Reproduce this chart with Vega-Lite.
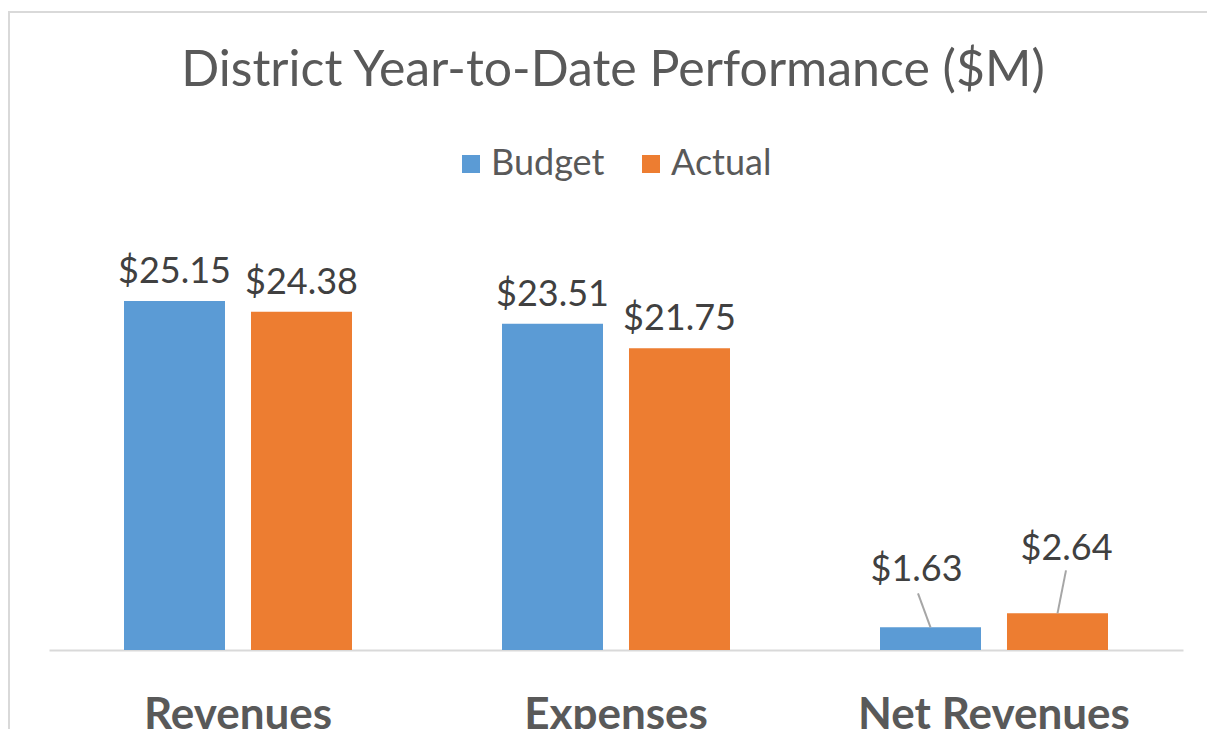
{
  "$schema": "https://vega.github.io/schema/vega-lite/v6.json",
  "autosize": "none",
  "padding": {"left": 9, "top": 12, "right": 0, "bottom": 0},
  "width": 1214,
  "height": 730,
  "background": "white",
  "config": {
    "view": {"stroke": "#d9d9d9", "strokeWidth": 2},
    "font": "Lato"
  },
  "title": {
    "text": "District Year-to-Date Performance ($M)",
    "font": "Lato",
    "fontSize": 50,
    "fontWeight": "normal",
    "color": "#595959",
    "anchor": "middle",
    "frame": "group",
    "baseline": "alphabetic",
    "offset": -124,
    "dx": -3
  },
  "data": {
    "values": [
      {"cat": "Revenues", "series": "Budget", "value": 25.15},
      {"cat": "Revenues", "series": "Actual", "value": 24.38},
      {"cat": "Expenses", "series": "Budget", "value": 23.51},
      {"cat": "Expenses", "series": "Actual", "value": 21.75},
      {"cat": "Net Revenues", "series": "Budget", "value": 1.63},
      {"cat": "Net Revenues", "series": "Actual", "value": 2.64}
    ]
  },
  "encoding": {
    "x": {
      "field": "cat",
      "type": "nominal",
      "sort": ["Revenues", "Expenses", "Net Revenues"],
      "scale": {"range": [40, 1174], "paddingInner": 0, "paddingOuter": 0},
      "axis": {
        "orient": "bottom",
        "offset": -92,
        "title": null,
        "domainColor": "#d9d9d9",
        "domainWidth": 2,
        "ticks": false,
        "tickSize": 0,
        "labelAngle": 0,
        "labelFont": "Lato",
        "labelFontWeight": "bold",
        "labelFontSize": 44,
        "labelColor": "#595959",
        "labelBaseline": "top",
        "labelPadding": 43,
        "labelLimit": 0
      }
    },
    "xOffset": {
      "field": "series",
      "type": "nominal",
      "sort": ["Budget", "Actual"],
      "scale": {"paddingInner": 0.2047, "paddingOuter": 0.5906}
    },
    "y": {
      "field": "value",
      "type": "quantitative",
      "scale": {"domain": [-6.63, 45.97], "nice": false, "zero": false},
      "axis": null
    }
  },
  "layer": [
    {
      "mark": {"type": "bar"},
      "encoding": {
        "color": {
          "field": "series",
          "type": "nominal",
          "sort": ["Budget", "Actual"],
          "scale": {"domain": ["Budget", "Actual"], "range": ["#5B9BD5", "#ED7D31"]},
          "legend": {
            "orient": "none",
            "legendX": 444,
            "legendY": 134,
            "direction": "horizontal",
            "title": null,
            "symbolType": "square",
            "symbolSize": 324,
            "symbolStrokeWidth": 0,
            "labelFont": "Lato",
            "labelFontSize": 36,
            "labelColor": "#595959",
            "labelOffset": 2,
            "columnPadding": 28,
            "padding": 0
          }
        }
      }
    },
    {
      "transform": [{"filter": "datum.cat !== 'Net Revenues'"}],
      "mark": {"type": "text", "font": "Lato", "fontSize": 36, "color": "#404040", "baseline": "alphabetic", "dy": -18},
      "encoding": {"text": {"field": "value", "type": "quantitative", "format": "$.2f"}}
    },
    {
      "transform": [{"filter": "datum.cat === 'Net Revenues' && datum.series === 'Budget'"}],
      "mark": {"type": "text", "font": "Lato", "fontSize": 36, "color": "#404040", "baseline": "alphabetic", "dx": -14, "dy": -46},
      "encoding": {"text": {"field": "value", "type": "quantitative", "format": "$.2f"}}
    },
    {
      "transform": [{"filter": "datum.cat === 'Net Revenues' && datum.series === 'Actual'"}],
      "mark": {"type": "text", "font": "Lato", "fontSize": 36, "color": "#404040", "baseline": "alphabetic", "dx": 9, "dy": -53},
      "encoding": {"text": {"field": "value", "type": "quantitative", "format": "$.2f"}}
    },
    {
      "transform": [{"filter": "datum.cat === 'Net Revenues' && datum.series === 'Budget'"}],
      "mark": {"type": "rule", "color": "#a6a6a6", "strokeWidth": 2, "y2Offset": -34, "x2Offset": -76},
      "encoding": {"x2": {"field": "cat"}, "y2": {"field": "value"}}
    },
    {
      "transform": [{"filter": "datum.cat === 'Net Revenues' && datum.series === 'Actual'"}],
      "mark": {"type": "rule", "color": "#a6a6a6", "strokeWidth": 2, "y2Offset": -43, "x2Offset": 72},
      "encoding": {"x2": {"field": "cat"}, "y2": {"field": "value"}}
    }
  ]
}
